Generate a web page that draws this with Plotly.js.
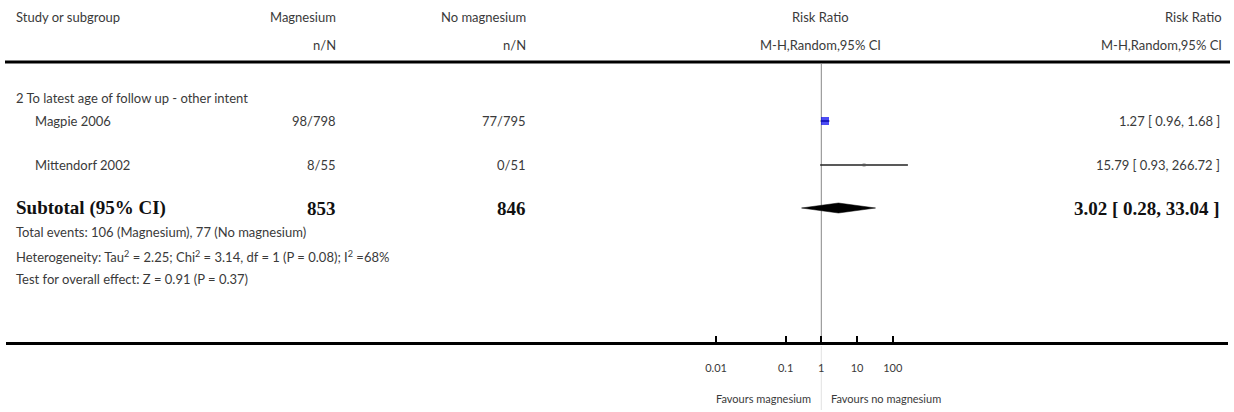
<!DOCTYPE html>
<html>
<head>
<meta charset="utf-8">
<script src="https://cdn.plot.ly/plotly-3.0.1.min.js"></script>
<style>html,body{margin:0;padding:0;background:#fff}#chart{width:1234px;height:412px}</style>
</head>
<body>
<div id="chart"></div>
<script>
// ---- data ----
const subgroupLabel = '2 To latest age of follow up - other intent';
const studies = ['Magpie 2006', 'Mittendorf 2002'];
const magnesiumNN = ['98/798', '8/55'];
const noMagnesiumNN = ['77/795', '0/51'];
const riskRatio = [1.27, 15.79];
const ciLow = [0.96, 0.93];
const ciHigh = [1.68, 266.72];
const subtotalTotals = ['853', '846'];
const subtotalRR = 3.02, subtotalLow = 0.28, subtotalHigh = 33.04;
const nullValue = 1;
const footnotes = [
  'Total events: 106 (Magnesium), 77 (No magnesium)',
  'Heterogeneity: Tau<sup>2</sup> = 2.25; Chi<sup>2</sup> = 3.14, df = 1 (P = 0.08); I<sup>2</sup> =68%',
  'Test for overall effect: Z = 0.91 (P = 0.37)'
];
const tickLabels = ['0.01', '0.1', '1', '10', '100'];
const tickValues = [0.00113, 0.1, 1, 10, 100];

function fmt(v){ return v.toFixed(2); }
function ciText(r,l,h){ return fmt(r)+' [ '+fmt(l)+', '+fmt(h)+' ]'; }

// ---- layout geometry (pixels) ----
const W = 1234, H = 412;
const ML = 6, MR = 6, PLOT_BOTTOM = 342;
const PXW = W - ML - MR;
const X1PX = 821.3, PX_PER_DEC = 35.7;
const xrange = [(ML - X1PX)/PX_PER_DEC, (W - MR - X1PX)/PX_PER_DEC];
const px = v => (v - ML)/PXW; // pixel -> paper
const valToPaper = v => (Math.log10(v) - xrange[0])/(xrange[1]-xrange[0]);
const rowY = {head1:17, head2:45, headLine:62, subgroup:98, studies:[121,165], subtotal:208, foot:[232,256,279]};
const markerSizes = [8, 3];
const markerColors = ['#0000ee', '#555555'];

const FONT = 'Lato, "Open Sans", sans-serif';
const TC = '#3a3a3a';
const traces = [];
// CI lines
studies.forEach((s,i)=>{
  traces.push({x:[ciLow[i], ciHigh[i]], y:[rowY.studies[i], rowY.studies[i]], mode:'lines',
    line:{color:'#222', width:1.5}, hoverinfo:'skip', showlegend:false});
});
// squares
traces.push({x:riskRatio, y:rowY.studies, mode:'markers', marker:{symbol:'square', size:markerSizes, color:markerColors, line:{width:0}}, showlegend:false});
// diamond
const dh = 5;
traces.push({x:[subtotalLow, subtotalRR, subtotalHigh, subtotalRR, subtotalLow],
  y:[rowY.subtotal, rowY.subtotal-dh, rowY.subtotal, rowY.subtotal+dh, rowY.subtotal],
  mode:'lines', fill:'toself', fillcolor:'#000', line:{color:'#000', width:0.5}, showlegend:false});

const ann = [];
function t(text, xp, y, anchor, opts){
  ann.push(Object.assign({text:text, x:px(xp), xref:'paper', y:y, yref:'y', xanchor:anchor, yanchor:'middle', showarrow:false,
    font:{family:FONT, size:13, color:TC}}, opts||{}));
}
// headers
t('Study or subgroup', 14, rowY.head1, 'left');
t('Magnesium', 338, rowY.head1, 'right');
t('n/N', 338, rowY.head2, 'right');
t('No magnesium', 528, rowY.head1, 'right');
t('n/N', 528, rowY.head2, 'right');
t('Risk Ratio', 820, rowY.head1, 'center');
t('M-H,Random,95% CI', 820, rowY.head2, 'center');
t('Risk Ratio', 1224, rowY.head1, 'right');
t('M-H,Random,95% CI', 1224, rowY.head2, 'right');
// subgroup
t(subgroupLabel, 14, rowY.subgroup, 'left');
studies.forEach((s,i)=>{
  const y = rowY.studies[i];
  t(s, 33, y, 'left');
  t(magnesiumNN[i], 338, y, 'right');
  t(noMagnesiumNN[i], 528, y, 'right');
  t(ciText(riskRatio[i], ciLow[i], ciHigh[i]), 1222, y, 'right');
});
const bold = {font:{family:'"Liberation Serif", "Times New Roman", serif', size:19, color:'#111'}};
t('<b>Subtotal (95% CI)</b>', 14, rowY.subtotal, 'left', bold);
t('<b>'+subtotalTotals[0]+'</b>', 338, rowY.subtotal, 'right', bold);
t('<b>'+subtotalTotals[1]+'</b>', 528, rowY.subtotal, 'right', bold);
t('<b>'+ciText(subtotalRR, subtotalLow, subtotalHigh)+'</b>', 1222, rowY.subtotal, 'right', bold);
footnotes.forEach((f,i)=> t(f, 14, rowY.foot[i], 'left'));
// favours labels (below plot, paper y)
ann.push({text:'Favours magnesium', x:px(813), xref:'paper', y:-(398-PLOT_BOTTOM)/PLOT_BOTTOM, yref:'paper', xanchor:'right', yanchor:'middle', showarrow:false, font:{family:FONT, size:11, color:TC}});
ann.push({text:'Favours no magnesium', x:px(829), xref:'paper', y:-(398-PLOT_BOTTOM)/PLOT_BOTTOM, yref:'paper', xanchor:'left', yanchor:'middle', showarrow:false, font:{family:FONT, size:11, color:TC}});

const nx = valToPaper(nullValue);
const shapes = [
  // header rule
  {type:'line', xref:'paper', yref:'y', x0:px(5), x1:px(1230), y0:rowY.headLine, y1:rowY.headLine, line:{color:'#000', width:3}},
  // null line inside plot
  {type:'line', layer:'below', xref:'paper', yref:'paper', x0:nx, x1:nx, y0:0, y1:(PLOT_BOTTOM-rowY.headLine-2)/PLOT_BOTTOM, line:{color:'#888', width:1}},
  // null line below axis
  {type:'line', layer:'below', xref:'paper', yref:'paper', x0:nx, x1:nx, y0:-4/PLOT_BOTTOM, y1:-(410-PLOT_BOTTOM)/PLOT_BOTTOM, line:{color:'#e2e2e2', width:1}}
];

const layout = {
  width:W, height:H, paper_bgcolor:'#fff', plot_bgcolor:'#fff',
  margin:{l:ML, r:MR, t:0, b:H-PLOT_BOTTOM, pad:0},
  showlegend:false,
  xaxis:{type:'log', range:xrange, showgrid:false, zeroline:false, showline:true, linecolor:'#000', linewidth:3,
    ticks:'inside', ticklen:6, tickwidth:2, tickcolor:'#000', tickvals:tickValues, ticktext:tickLabels,
    tickfont:{family:FONT, size:11, color:TC}, ticklabelstandoff:14, fixedrange:true},
  yaxis:{range:[PLOT_BOTTOM, 0], visible:false, showgrid:false, zeroline:false, fixedrange:true},
  annotations:ann, shapes:shapes
};
Plotly.newPlot('chart', traces, layout, {staticPlot:true, displayModeBar:false});
</script>
</body>
</html>
